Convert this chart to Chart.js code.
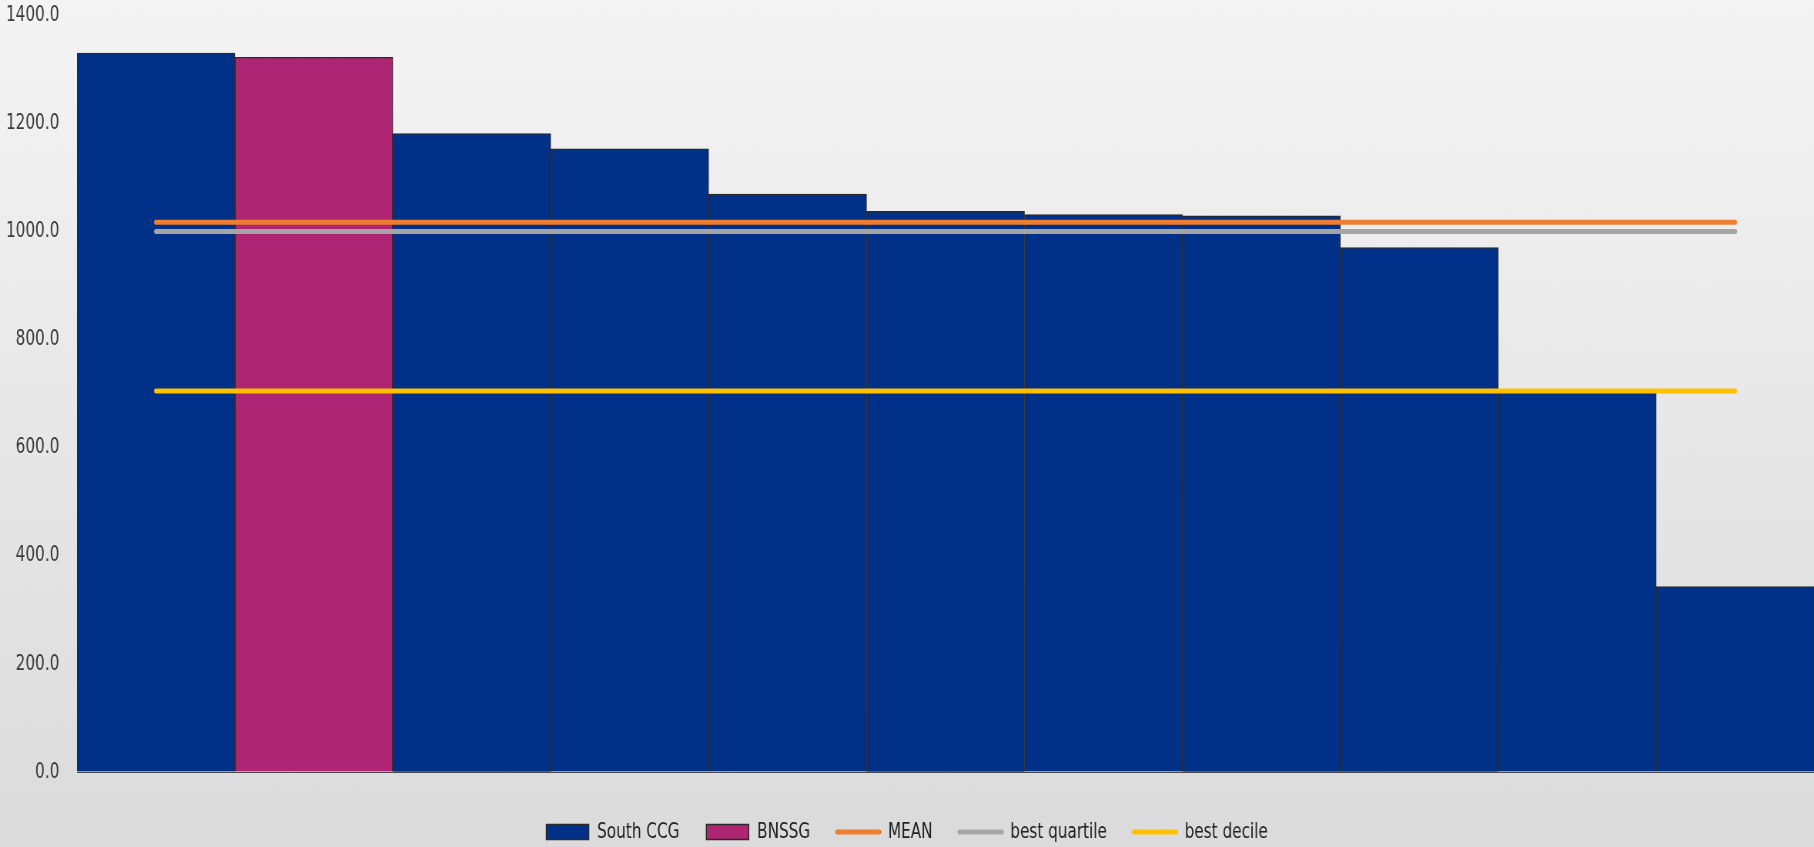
<!DOCTYPE html>
<html lang="en">
<head>
    <meta charset="UTF-8">
    <title>South CCG vs BNSSG</title>
    <script src="https://cdn.jsdelivr.net/npm/chart.js"></script> <!--chart.js-->
    <style>
        html, body { margin: 0; padding: 0; overflow: hidden; background: #dcdcdc; }
        /* chart is drawn wide and squeezed back to 1814px so the text comes out narrow like the original export */
        #wrap { width: 2356px; height: 847px; transform: scaleX(0.77); transform-origin: 0 0; }
        #ccgChart { display: block; }
    </style>
</head>
<body>
    <div id="wrap">
        <canvas id="ccgChart" width="2356" height="847"></canvas>
    </div>
    <script>
        // one entry per practice / area, sorted high to low
        const categories = ['', '', '', '', '', '', '', '', '', '', ''];
        const southCcg = [1330, null, 1181, 1153, 1069, 1037, 1031, 1029, 970, 701, 343];
        const bnssg    = [null, 1322, null, null, null, null, null, null, null, null, null];
        const meanLine     = [1017, 1017, 1017, 1017, 1017, 1017, 1017, 1017, 1017, 1017, 1017];
        const quartileLine = [1000, 1000, 1000, 1000, 1000, 1000, 1000, 1000, 1000, 1000, 1000];
        const decileLine   = [705, 705, 705, 705, 705, 705, 705, 705, 705, 705, 705];
        const yTicks = [0, 200, 400, 600, 800, 1000, 1200, 1400];

        const FONT = "'DejaVu Sans Condensed', 'DejaVu Sans', sans-serif";

        // grey gradient behind the whole chart
        const backgroundPlugin = {
            id: 'gradient_bg',
            beforeDraw: (chart) => {
                const ctx = chart.ctx;
                const g = ctx.createLinearGradient(0, 0, 0, chart.height);
                g.addColorStop(0, '#f4f4f4');
                g.addColorStop(1, '#dbdbdb');
                ctx.save();
                ctx.fillStyle = g;
                ctx.fillRect(0, 0, chart.width, chart.height);
                ctx.restore();
            }
        };

        const barDs = (label, data, color) => ({
            type: 'bar', label: label, data: data,
            backgroundColor: color, borderColor: '#2a2a2a', borderWidth: 1.3,
            barPercentage: 1, categoryPercentage: 1, grouped: false, order: 2
        });
        const lineDs = (label, data, color) => ({
            type: 'line', label: label, data: data,
            borderColor: color, backgroundColor: color, borderWidth: 5,
            borderCapStyle: 'round', pointRadius: 0, fill: false, order: 1
        });

        const ctx = document.getElementById('ccgChart').getContext('2d');
        const ccgChart = new Chart(ctx, {
            data: {
                labels: categories,
                datasets: [
                    barDs('South CCG', southCcg, '#003087'),
                    barDs('BNSSG', bnssg, '#ae2573'),
                    lineDs('MEAN', meanLine, '#ed7d31'),
                    lineDs('best quartile', quartileLine, '#a5a5a5'),
                    lineDs('best decile', decileLine, '#ffc000')
                ]
            },
            options: {
                responsive: false,
                animation: false,
                layout: { padding: { top: 0, right: 0, bottom: -6, left: 0 } },
                scales: {
                    x: {
                        ticks: { display: false },
                        grid: { display: false, drawTicks: false },
                        border: { display: true, color: '#4a4a4a' },
                        afterFit: (scale) => { scale.height = 14; }
                    },
                    y: {
                        min: 0, max: 1400,
                        afterBuildTicks: (scale) => { scale.ticks = yTicks.map(v => ({ value: v })); },
                        ticks: {
                            padding: 2, color: '#3a3a3a',
                            font: { family: FONT, size: 22 },
                            callback: (v) => Number(v).toFixed(1)
                        },
                        // invisible tick marks keep the labels clear of the bars
                        grid: { display: true, drawOnChartArea: false, drawTicks: true, tickLength: 21, color: 'rgba(0,0,0,0)' },
                        border: { display: false },
                        afterFit: (scale) => { scale.width = 100; }
                    }
                },
                plugins: {
                    tooltip: { enabled: false },
                    legend: {
                        position: 'bottom',
                        labels: {
                            color: '#222222',
                            font: { family: FONT, size: 22 },
                            usePointStyle: true,
                            pointStyleWidth: 55,
                            boxHeight: 15,
                            padding: 35,
                            generateLabels: (chart) => chart.data.datasets.map((ds, i) => {
                                const isBar = ds.type === 'bar';
                                return {
                                    text: ds.label,
                                    datasetIndex: i,
                                    fillStyle: ds.backgroundColor,
                                    strokeStyle: isBar ? '#2a2a2a' : ds.borderColor,
                                    lineWidth: isBar ? 1.5 : 5,
                                    lineCap: 'round',
                                    pointStyle: isBar ? 'rect' : 'line',
                                    fontColor: '#222222',
                                    hidden: false
                                };
                            })
                        }
                    }
                }
            },
            plugins: [backgroundPlugin]
        });
    </script>
</body>
</html>
